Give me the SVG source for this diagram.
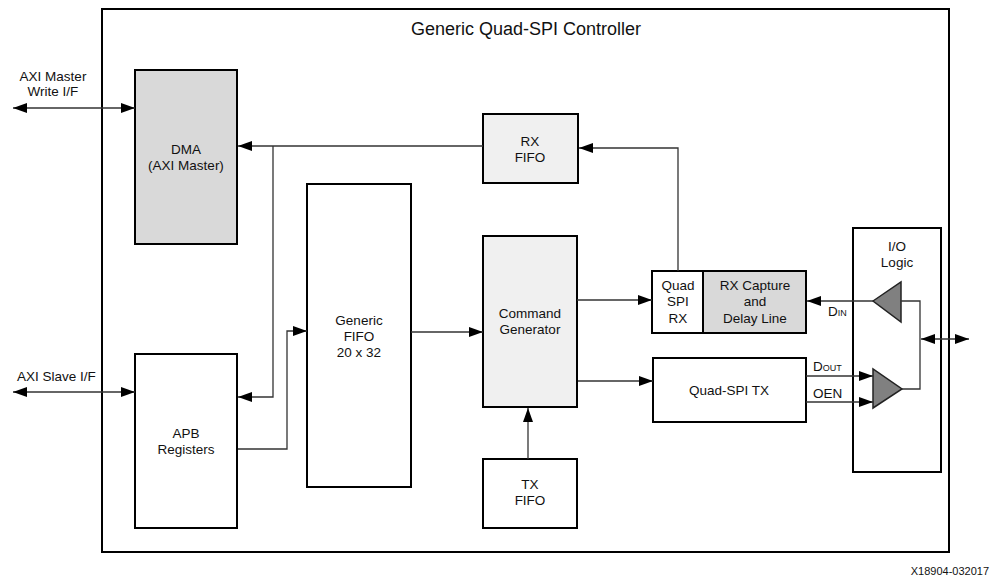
<svg xmlns="http://www.w3.org/2000/svg" width="992" height="580" viewBox="0 0 992 580">
<defs>
<marker id="ah" markerUnits="userSpaceOnUse" markerWidth="14" markerHeight="10" refX="14" refY="5" orient="auto-start-reverse">
<path d="M0,0 L14,5 L0,10 Z" fill="#000"/>
</marker>
<style>
.box{stroke:#000;stroke-width:2;fill:#fff}
.dark{fill:#d9d9d9}
.light{fill:#f0f0f0}
.c{fill:none;stroke:#333;stroke-width:1.3}
.a{marker-end:url(#ah)}
.b{marker-start:url(#ah);marker-end:url(#ah)}
text{font-family:"Liberation Sans",Arial,sans-serif;font-size:13.5px;fill:#111}
.m{text-anchor:middle}
.buf{fill:#808080;stroke:#222;stroke-width:1.5}
</style>
</defs>
<rect width="992" height="580" fill="#fff"/>
<g id="controller">
<rect class="box" x="102" y="9" width="847" height="543" fill="none"/>
<text class="m" x="526" y="35" style="font-size:18px">Generic Quad-SPI Controller</text>
</g>
<g id="dma">
<rect class="box dark" x="135" y="70" width="102" height="174"/>
<text class="m" x="186" y="154">DMA</text>
<text class="m" x="186" y="170">(AXI Master)</text>
</g>
<g id="apb">
<rect class="box" x="135" y="354" width="102" height="174"/>
<text class="m" x="186" y="438">APB</text>
<text class="m" x="186" y="454">Registers</text>
</g>
<g id="generic-fifo">
<rect class="box" x="307" y="184" width="104" height="303"/>
<text class="m" x="359" y="325">Generic</text>
<text class="m" x="359" y="341">FIFO</text>
<text class="m" x="359" y="357">20 x 32</text>
</g>
<g id="rx-fifo">
<rect class="box light" x="483" y="114" width="95" height="69"/>
<text class="m" x="530" y="146">RX</text>
<text class="m" x="530" y="162">FIFO</text>
</g>
<g id="cmd-gen">
<rect class="box light" x="483" y="236" width="94" height="171"/>
<text class="m" x="530" y="318">Command</text>
<text class="m" x="530" y="334">Generator</text>
</g>
<g id="tx-fifo">
<rect class="box" x="483" y="459" width="94" height="69"/>
<text class="m" x="530" y="489">TX</text>
<text class="m" x="530" y="505">FIFO</text>
</g>
<g id="quad-spi-rx">
<rect class="box" x="652" y="271" width="51" height="62"/>
<text class="m" x="678" y="290">Quad</text>
<text class="m" x="678" y="306">SPI</text>
<text class="m" x="678" y="323">RX</text>
</g>
<g id="rx-capture">
<rect class="box dark" x="703" y="271" width="103" height="62"/>
<text class="m" x="755" y="290">RX Capture</text>
<text class="m" x="755" y="306">and</text>
<text class="m" x="755" y="323">Delay Line</text>
</g>
<g id="quad-spi-tx">
<rect class="box" x="653" y="358" width="153" height="64"/>
<text class="m" x="729" y="395">Quad-SPI TX</text>
</g>
<g id="io-logic">
<rect class="box" x="853" y="228" width="88" height="244"/>
<text class="m" x="897" y="251">I/O</text>
<text class="m" x="897" y="267">Logic</text>
<polygon class="buf" points="873,301 901,282 901,322"/>
<polygon class="buf" points="873,369 873,408 902,389"/>
</g>
<g id="connectors">
<line class="c b" x1="13" y1="108" x2="135" y2="108"/>
<line class="c b" x1="13" y1="392" x2="135" y2="392"/>
<line class="c a" x1="483" y1="146" x2="238" y2="146"/>
<polyline class="c a" points="273,146 273,397 238,397"/>
<polyline class="c a" points="238,449 287,449 287,331 307,331"/>
<line class="c a" x1="411" y1="332" x2="483" y2="332"/>
<polyline class="c a" points="678,271 678,148 579,148"/>
<line class="c a" x1="577" y1="300" x2="652" y2="300"/>
<line class="c a" x1="578" y1="381" x2="653" y2="381"/>
<line class="c a" x1="528" y1="459" x2="528" y2="408"/>
<line class="c a" x1="873" y1="301" x2="807" y2="301"/>
<line class="c a" x1="806" y1="376" x2="873" y2="376"/>
<line class="c a" x1="806" y1="402" x2="873" y2="402"/>
<polyline class="c" points="901,301 920,301 920,389 902,389"/>
<line class="c b" x1="921" y1="339" x2="969" y2="339"/>
</g>
<g id="labels">
<text class="m" x="53" y="81">AXI Master</text>
<text class="m" x="53" y="96">Write I/F</text>
<text x="17" y="381">AXI Slave I/F</text>
<text x="828" y="316">D<tspan style="font-size:9px">IN</tspan></text>
<text x="813" y="371">D<tspan style="font-size:9px">OUT</tspan></text>
<text x="813" y="398">OEN</text>
<text x="989" y="575" style="font-size:11px;text-anchor:end">X18904-032017</text>
</g>
</svg>
